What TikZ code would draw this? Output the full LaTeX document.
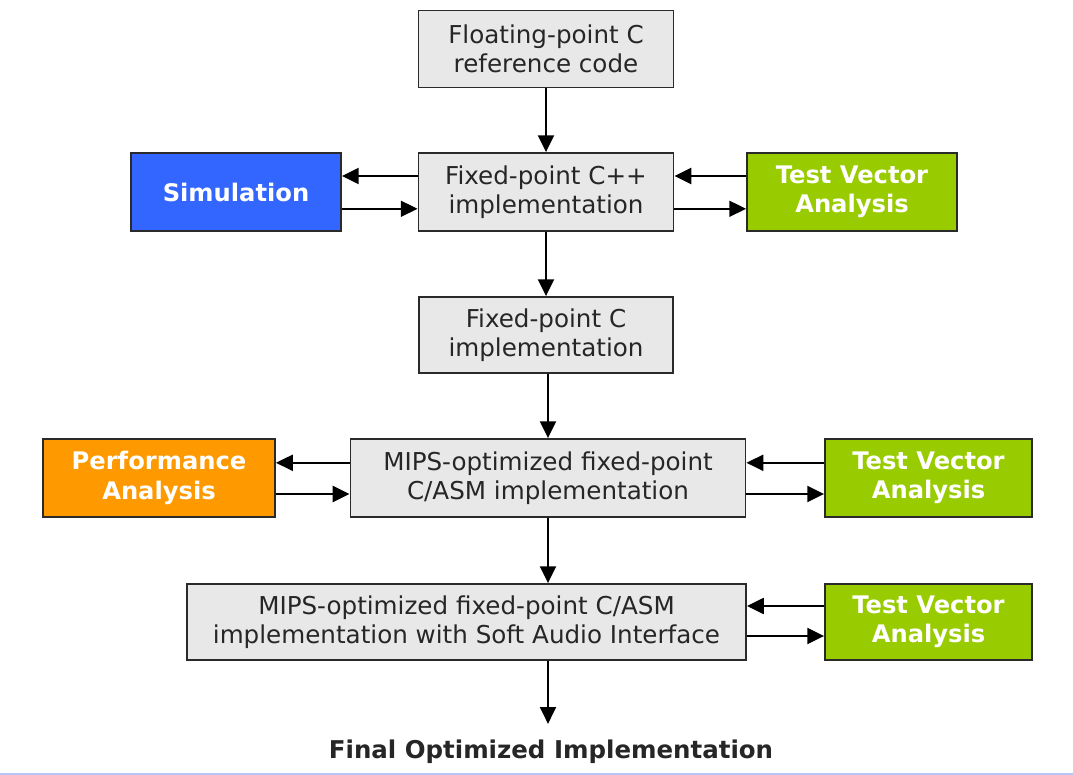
\documentclass[tikz,border=0pt]{standalone}
\usepackage{fontspec}
\setmainfont{DejaVu Sans}
\usetikzlibrary{arrows.meta}
\definecolor{boxgray}{HTML}{E8E8E8}
\definecolor{simblue}{HTML}{3366FF}
\definecolor{tvgreen}{HTML}{99CC00}
\definecolor{perforange}{HTML}{FF9900}
\definecolor{edgegray}{HTML}{2A2A2A}
\definecolor{pageblue}{HTML}{B4C6F6}
\begin{document}
\begin{tikzpicture}[x=0.025cm,y=-0.025cm,
  stage/.style={draw=edgegray,line width=1.3pt,fill=boxgray,align=center,inner sep=0pt,
    minimum height=1.95cm,text=black!85,font=\fontsize{17.5}{21}\selectfont},
  side/.style={stage,text=white,font=\fontsize{17.2}{21}\selectfont\bfseries},
  arr/.style={line width=1.4pt,-{Triangle[length=0.42cm,width=0.4cm]}}]
\useasboundingbox (0,0) rectangle (1073,775);
\draw[line width=1.5pt,pageblue] (0,774) -- (1073,774);
% main chain
\node[stage,minimum width=6.375cm,minimum height=1.925cm] (fpref) at (546,49) {Floating-point C\\reference code};
\node[stage,minimum width=6.375cm] (fxcpp) at (546,192) {Fixed-point C++\\implementation};
\node[stage,minimum width=6.35cm,minimum height=1.9cm] (fxc) at (546,335) {Fixed-point C\\implementation};
\node[stage,minimum width=9.875cm] (mips) at (548,478) {MIPS-optimized fixed-point\\C/ASM implementation};
\node[stage,minimum width=13.975cm,minimum height=1.9cm] (mipssai) at (466.5,622) {MIPS-optimized fixed-point C/ASM\\implementation with Soft Audio Interface};
\node[inner xsep=0pt,inner ysep=0.4cm,text=black!85,font=\fontsize{17.4}{21}\selectfont\bfseries] (final) at (551,752) {Final Optimized Implementation};
% side boxes
\node[side,fill=simblue,minimum width=5.25cm] (sim) at (236,192) {Simulation};
\node[side,fill=tvgreen,minimum width=5.25cm] (tvone) at (852,192) {Test Vector\\Analysis};
\node[side,fill=perforange,minimum width=5.8cm] (perf) at (159,478) {Performance\\Analysis};
\node[side,fill=tvgreen,minimum width=5.175cm] (tvtwo) at (928.5,478) {Test Vector\\Analysis};
\node[side,fill=tvgreen,minimum width=5.175cm,minimum height=1.9cm] (tvthree) at (928.5,622) {Test Vector\\Analysis};
% vertical arrows
\draw[arr] (fpref.south) -- (fxcpp.north);
\draw[arr] (fxcpp.south) -- (fxc.north);
\draw[arr] (fxc.south -| mips.south) -- (mips.north);
\draw[arr] (mips.south) -- (mips.south |- mipssai.north);
\draw[arr] (mips.south |- mipssai.south) -- (mips.south |- final.north);
% side arrows
\draw[arr] ([yshift=0.4cm]fxcpp.west) -- ([yshift=0.4cm]sim.east);
\draw[arr] ([yshift=-0.42cm]sim.east) -- ([yshift=-0.42cm]fxcpp.west);
\draw[arr] ([yshift=0.4cm]tvone.west) -- ([yshift=0.4cm]fxcpp.east);
\draw[arr] ([yshift=-0.42cm]fxcpp.east) -- ([yshift=-0.42cm]tvone.west);
\draw[arr] ([yshift=0.38cm]mips.west) -- ([yshift=0.38cm]perf.east);
\draw[arr] ([yshift=-0.4cm]perf.east) -- ([yshift=-0.4cm]mips.west);
\draw[arr] ([yshift=0.38cm]tvtwo.west) -- ([yshift=0.38cm]mips.east);
\draw[arr] ([yshift=-0.4cm]mips.east) -- ([yshift=-0.4cm]tvtwo.west);
\draw[arr] ([yshift=0.4cm]tvthree.west) -- ([yshift=0.4cm]mipssai.east);
\draw[arr] ([yshift=-0.35cm]mipssai.east) -- ([yshift=-0.35cm]tvthree.west);
\end{tikzpicture}
\end{document}
